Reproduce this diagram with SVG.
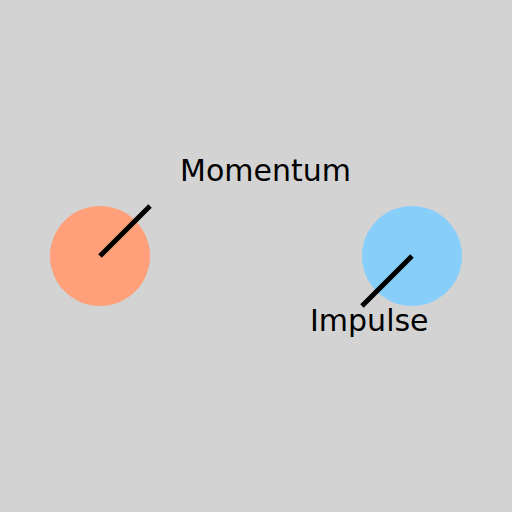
<svg xmlns="http://www.w3.org/2000/svg" width="512" height="512" viewBox="0 0 512 512">
<style>
.lbl{font-family:"DejaVu Sans",sans-serif;font-size:30px;fill:#000}
.vec{stroke:#000;stroke-width:5;fill:none}
</style>
<rect width="512" height="512" fill="#d3d3d3"/>
<g id="ball1"><circle cx="100" cy="256" r="50" fill="#ffa07a"/></g>
<g id="ball2"><circle cx="412" cy="256" r="50" fill="#87cefa"/></g>
<g id="connectors">
<line class="vec" x1="100" y1="256" x2="150" y2="206"/>
<line class="vec" x1="412" y1="256" x2="362" y2="306"/>
</g>
<g id="label-momentum"><text class="lbl" x="180" y="181">Momentum</text></g>
<g id="label-impulse"><text class="lbl" x="310" y="331">Impulse</text></g>
</svg>
